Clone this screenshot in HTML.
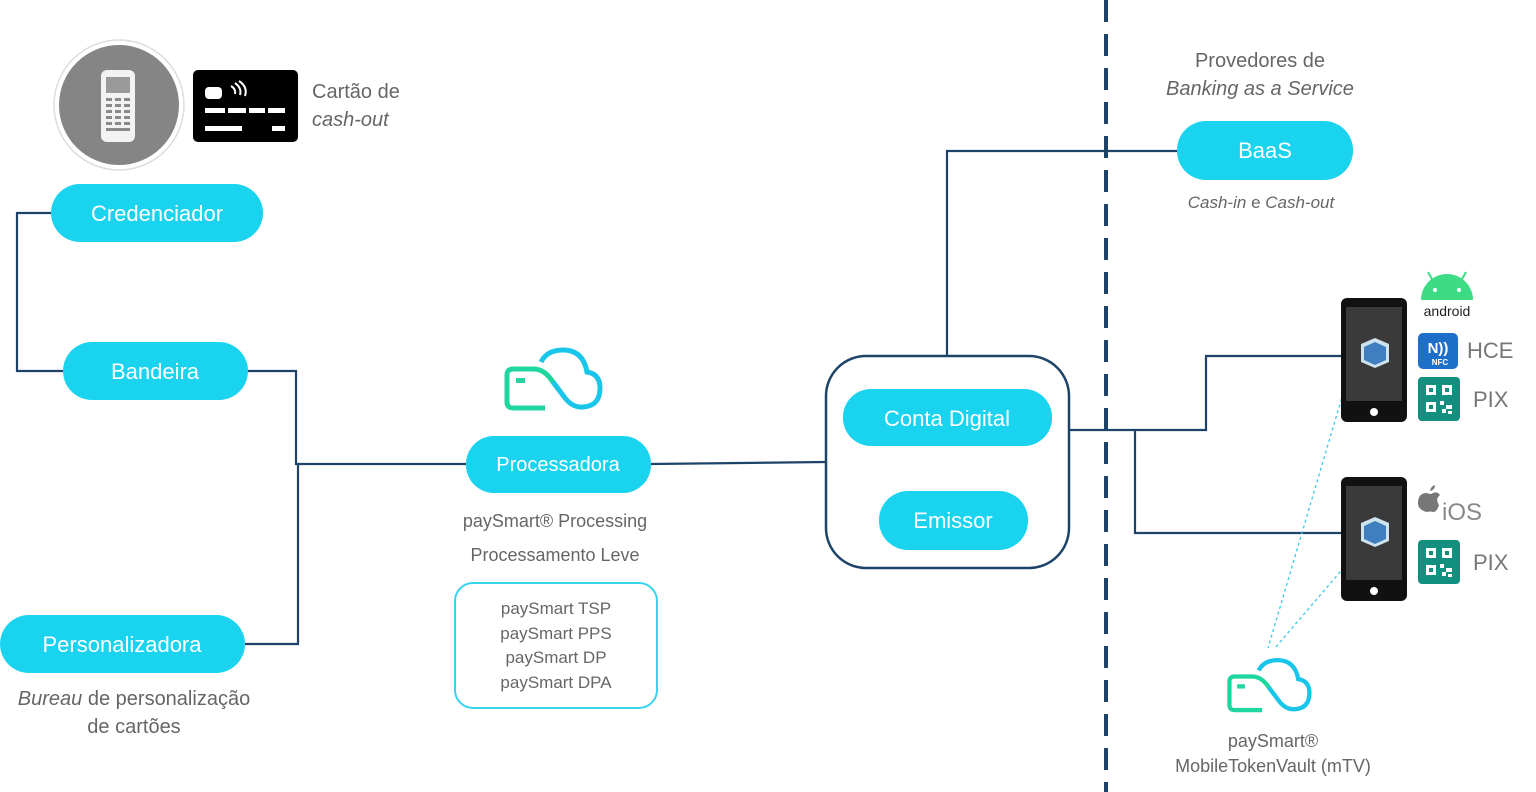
<!DOCTYPE html>
<html><head><meta charset="utf-8"><style>
html,body{margin:0;padding:0;background:#fff;}
svg{display:block;font-family:"Liberation Sans",sans-serif;}
</style></head><body>
<svg width="1536" height="792" viewBox="0 0 1536 792" xmlns="http://www.w3.org/2000/svg">
<defs>
<g id="cloud">
<path d="M42,64 L10,64 Q4,64 4,58 L4,31 Q4,25 10,25 L30,25 Q40,25 47,34 L56,46" fill="none" stroke="#1fd6a0" stroke-width="5"/>
<rect x="13" y="34" width="9" height="5" fill="#1fd6a0"/>
<path d="M50,38 L62,54 Q70,64 80,63 Q97,62 97,44 Q97,30 84,28 Q80,6 60,6 Q44,6 38,18" fill="none" stroke="#19c6ea" stroke-width="5"/>
</g>
<g id="qr">
<rect x="0" y="0" width="42" height="44" rx="4" fill="#138f80"/>
<g fill="#fff"><rect x="8" y="8" width="10" height="10"/><rect x="24" y="8" width="10" height="10"/><rect x="8" y="25" width="10" height="10"/><rect x="22" y="24" width="4" height="4"/><rect x="28" y="28" width="6" height="4"/><rect x="24" y="32" width="4" height="4"/><rect x="30" y="34" width="4" height="3"/></g>
<g fill="#138f80"><rect x="11" y="11" width="4" height="4"/><rect x="27" y="11" width="4" height="4"/><rect x="11" y="28" width="4" height="4"/></g>
</g>
<g id="phone">
<rect x="0" y="0" width="66" height="124" rx="6" fill="#111"/>
<rect x="5" y="9" width="56" height="94" fill="#3a3a3a"/>
<circle cx="33" cy="114" r="4" fill="#fff"/>
<g transform="translate(18,40)">
<path d="M2,6 L16,0 L30,6 L30,24 L16,30 L2,24 Z" fill="#cfe3ee"/>
<path d="M5,9 L16,4 L27,9 L27,22 L16,27 L5,22 Z" fill="#3f7fc0"/>
</g>
</g>
</defs>

<!-- connectors -->
<g fill="none" stroke="#1d4468" stroke-width="2.2">
<path d="M51,213 H17 V371 H63"/>
<path d="M248,371 H296 V464 H466"/>
<path d="M298,464 V644 H245"/>
<path d="M651,464 L826,462"/>
<path d="M947,356 V151 H1177"/>
<path d="M1069,430 H1206 V356 H1342"/>
<path d="M1135,430 V533 H1342"/>
</g>
<line x1="1106" y1="0" x2="1106" y2="792" stroke="#1d4468" stroke-width="4" stroke-dasharray="22,12"/>
<g stroke="#3cc8e6" stroke-width="1.3" stroke-dasharray="3,3" fill="none">
<path d="M1350,370 L1268,648"/>
<path d="M1352,558 L1275,648"/>
</g>

<!-- top left icons -->
<circle cx="119" cy="105" r="65" fill="#fff" stroke="#ddd" stroke-width="1.5"/>
<circle cx="119" cy="105" r="60" fill="#858585"/>
<rect x="101" y="70" width="34" height="72" rx="6" fill="#f2f2f2"/>
<rect x="106" y="77" width="24" height="16" fill="#9a9a9a"/>
<g fill="#8a8a8a">
<rect x="106" y="98" width="6" height="3"/><rect x="115" y="98" width="6" height="3"/><rect x="124" y="98" width="6" height="3"/>
<rect x="106" y="104" width="6" height="3"/><rect x="115" y="104" width="6" height="3"/><rect x="124" y="104" width="6" height="3"/>
<rect x="106" y="110" width="6" height="3"/><rect x="115" y="110" width="6" height="3"/><rect x="124" y="110" width="6" height="3"/>
<rect x="106" y="116" width="6" height="3"/><rect x="115" y="116" width="6" height="3"/><rect x="124" y="116" width="6" height="3"/>
<rect x="106" y="122" width="6" height="3"/><rect x="115" y="122" width="6" height="3"/><rect x="124" y="122" width="6" height="3"/>
<rect x="106" y="128" width="24" height="3"/>
</g>
<rect x="193" y="70" width="105" height="72" rx="5" fill="#000"/>
<rect x="205" y="87" width="17" height="12" rx="4" fill="#fff"/>
<path d="M231,86 q5,3 4,8 M235,83 q7,5 5,12 M239,81 q9,6 6,15" stroke="#fff" stroke-width="2" fill="none"/>
<g fill="#fff"><rect x="205" y="108" width="20" height="5"/><rect x="228" y="108" width="18" height="5"/><rect x="249" y="108" width="16" height="5"/><rect x="268" y="108" width="17" height="5"/><rect x="205" y="126" width="37" height="5"/><rect x="272" y="126" width="13" height="5"/></g>
<text x="312" y="98" font-size="20" fill="#666">Cartão de</text>
<text x="312" y="126" font-size="20" fill="#666" font-style="italic">cash-out</text>

<!-- pills -->
<g fill="#1ad3ef">
<rect x="51" y="184" width="212" height="58" rx="29"/>
<rect x="63" y="342" width="185" height="58" rx="29"/>
<rect x="0" y="615" width="245" height="58" rx="29"/>
<rect x="466" y="436" width="185" height="57" rx="28"/>
<rect x="843" y="389" width="209" height="57" rx="28"/>
<rect x="879" y="491" width="149" height="59" rx="29"/>
<rect x="1177" y="121" width="176" height="59" rx="29"/>
</g>
<g fill="#fff" font-size="22" text-anchor="middle">
<text x="157" y="221">Credenciador</text>
<text x="155" y="379">Bandeira</text>
<text x="122" y="652">Personalizadora</text>
<text x="558" y="471" font-size="20">Processadora</text>
<text x="947" y="426">Conta Digital</text>
<text x="953" y="528">Emissor</text>
<text x="1265" y="158">BaaS</text>
</g>

<text x="134" y="705" font-size="20" fill="#666" text-anchor="middle"><tspan font-style="italic">Bureau</tspan> de personalização</text>
<text x="134" y="733" font-size="20" fill="#666" text-anchor="middle">de cartões</text>

<use href="#cloud" x="503" y="344"/>
<text x="555" y="527" font-size="18" fill="#666" text-anchor="middle">paySmart® Processing</text>
<text x="555" y="561" font-size="18" fill="#666" text-anchor="middle">Processamento Leve</text>
<rect x="455" y="583" width="202" height="125" rx="18" fill="none" stroke="#39d3ee" stroke-width="2"/>
<g font-size="17" fill="#666" text-anchor="middle">
<text x="556" y="614">paySmart TSP</text>
<text x="556" y="639">paySmart PPS</text>
<text x="556" y="663">paySmart DP</text>
<text x="556" y="688">paySmart DPA</text>
</g>

<rect x="826" y="356" width="243" height="212" rx="40" fill="none" stroke="#1d4468" stroke-width="2.5"/>

<text x="1260" y="67" font-size="20" fill="#666" text-anchor="middle">Provedores de</text>
<text x="1260" y="95" font-size="20" fill="#666" text-anchor="middle" font-style="italic">Banking as a Service</text>
<text x="1261" y="208" font-size="17" fill="#666" text-anchor="middle"><tspan font-style="italic">Cash-in</tspan> e <tspan font-style="italic">Cash-out</tspan></text>

<use href="#phone" x="1341" y="298"/>
<use href="#phone" x="1341" y="477"/>

<!-- android -->
<path d="M1421,300 a26,26 0 0 1 52,0 Z" fill="#3ddc84"/>
<line x1="1428" y1="272" x2="1433" y2="281" stroke="#3ddc84" stroke-width="2"/>
<line x1="1466" y1="272" x2="1461" y2="281" stroke="#3ddc84" stroke-width="2"/>
<circle cx="1435" cy="290" r="2" fill="#fff"/><circle cx="1459" cy="290" r="2" fill="#fff"/>
<text x="1447" y="316" font-size="14" fill="#222" text-anchor="middle">android</text>
<rect x="1418" y="333" width="40" height="36" rx="5" fill="#1e6fc7"/>
<text x="1438" y="353" font-size="15" fill="#fff" text-anchor="middle" font-weight="bold">N))</text>
<text x="1440" y="365" font-size="8" fill="#fff" text-anchor="middle" font-weight="bold">NFC</text>
<text x="1467" y="358" font-size="22" fill="#777">HCE</text>
<use href="#qr" x="1418" y="377"/>
<text x="1473" y="407" font-size="22" fill="#777">PIX</text>
<path d="M1418,503 q0,-10 9,-10 q4,2 6,0 q4,-2 7,2 q-5,4 -1,10 q-2,7 -6,7 q-3,-1 -6,0 q-9,-2 -9,-9 Z M1430,491 q1,-5 5,-6 q0,5 -5,6Z" fill="#777"/>
<text x="1442" y="520" font-size="24" fill="#888">iOS</text>
<use href="#qr" x="1418" y="540"/>
<text x="1473" y="570" font-size="22" fill="#777">PIX</text>

<g transform="translate(1226,655) scale(0.86)"><use href="#cloud"/></g>
<text x="1273" y="747" font-size="18" fill="#666" text-anchor="middle">paySmart®</text>
<text x="1273" y="772" font-size="18" fill="#666" text-anchor="middle">MobileTokenVault (mTV)</text>
</svg>
</body></html>
